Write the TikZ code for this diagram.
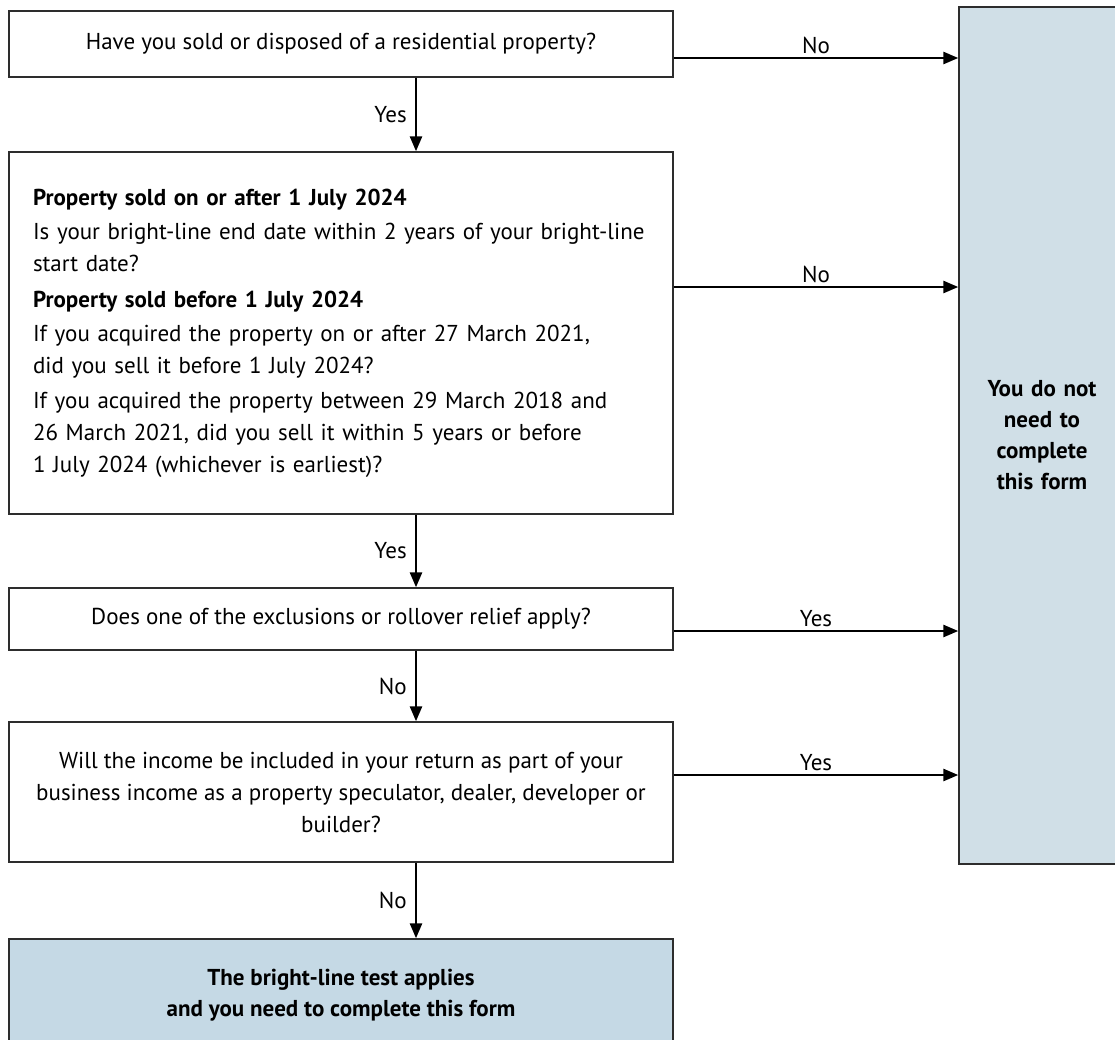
\documentclass[tikz,border=0pt]{standalone}
\usepackage{fontspec}
\setmainfont{PT Sans}
\usepackage{tikz}
\definecolor{panelblue}{RGB}{208, 223, 231}
\definecolor{resultblue}{RGB}{197, 217, 229}
\definecolor{edgegrey}{RGB}{45, 45, 45}
\usetikzlibrary{arrows.meta, positioning, calc}

\begin{document}
\begin{tikzpicture}[
    x=1pt, y=-1pt,
    font=\fontsize{23}{32}\selectfont,
    qbox/.style={rectangle, draw=edgegrey, line width=1.4pt, minimum width=664pt, inner sep=0pt, align=center},
    endbox/.style={qbox, fill=panelblue, font=\fontsize{23}{31}\selectfont\bfseries},
    arrow/.style={-{Triangle[length=15pt, width=12pt]}, line width=2.6pt},
    lbl/.style={inner sep=2pt}
]
    \useasboundingbox (0,0) rectangle (1115,1039);
    \coordinate (spine) at (416,0);

    \node[qbox, minimum height=66pt] (sold) at (341,44) {Have you sold or disposed of a residential property?};
    \node[qbox, minimum height=362pt, align=left, text width=616pt, inner xsep=24pt] (dates) at (341,333) {%
        \textbf{Property sold on or after 1 July 2024}\\[2pt]
        Is your bright-line end date within 2 years of your bright-line\\
        start date?\\[4pt]
        \textbf{Property sold before 1 July 2024}\\[2pt]
        If you acquired the property on or after 27 March 2021,\\
        did you sell it before 1 July 2024?\\[3pt]
        If you acquired the property between 29 March 2018 and\\
        26 March 2021, did you sell it within 5 years or before\\
        1 July 2024 (whichever is earliest)?};
    \node[qbox, minimum height=62pt] (relief) at (341,619) {Does one of the exclusions or rollover relief apply?};
    \node[qbox, minimum height=140pt] (dealer) at (341,792) {Will the income be included in your return as part of your\\
        business income as a property speculator, dealer, developer or\\
        builder?};
    \node[endbox, fill=resultblue, minimum height=112pt] (applies) at (341,995) {The bright-line test applies\\and you need to complete this form};
    \node[endbox, minimum width=166pt, minimum height=857pt, text width=130pt] (noform) at (1042,435.5) {You do not\\need to\\complete\\this form};

    % down the yes/no spine
    \draw[arrow] (sold.south -| spine) -- node[lbl, left=6pt] {Yes} (dates.north -| spine);
    \draw[arrow] (dates.south -| spine) -- node[lbl, left=6pt] {Yes} (relief.north -| spine);
    \draw[arrow] (relief.south -| spine) -- node[lbl, left=6pt] {No} (dealer.north -| spine);
    \draw[arrow] (dealer.south -| spine) -- node[lbl, left=6pt] {No} (applies.north -| spine);

    % across to the right-hand panel
    \draw[arrow] ([yshift=-14pt]sold.east) -- node[lbl, above=1pt] {No} ([yshift=-14pt]sold.east -| noform.west);
    \draw[arrow] ([yshift=46pt]dates.east) -- node[lbl, above=1pt] {No} ([yshift=46pt]dates.east -| noform.west);
    \draw[arrow] ([yshift=-12pt]relief.east) -- node[lbl, above=1pt] {Yes} ([yshift=-12pt]relief.east -| noform.west);
    \draw[arrow] ([yshift=17pt]dealer.east) -- node[lbl, above=1pt] {Yes} ([yshift=17pt]dealer.east -| noform.west);
\end{tikzpicture}
\end{document}
